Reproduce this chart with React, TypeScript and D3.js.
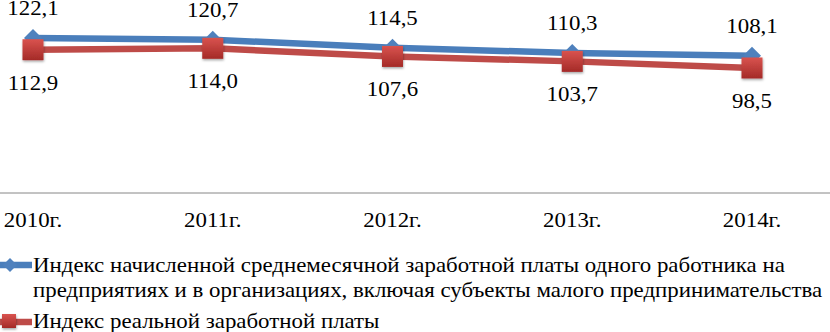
import React from "react";
import * as d3 from "d3";

const years = ["2010г.", "2011г.", "2012г.", "2013г.", "2014г."];
const nominalIndex = [122.1, 120.7, 114.5, 110.3, 108.1];
const realIndex = [112.9, 114.0, 107.6, 103.7, 98.5];
const nominalName = [
  "Индекс начисленной среднемесячной заработной платы одного работника на",
  "предприятиях и в организациях, включая субъекты малого предпринимательства",
];
const realName = ["Индекс реальной заработной платы"];

const W = 830;
const H = 332;
const BLUE = "#4A7EBB";
const BLUE_M = "#4F81BD";
const RED = "#BE4B48";
const FONT = "Liberation Serif, Times New Roman, serif";
const SX = 1.09;

const fmt = (v: number) => v.toFixed(1).replace(".", ",");

function T(props: { x: number; y: number; anchor?: string; size: number; children: React.ReactNode }) {
  return (
    <text
      transform={`translate(${props.x},${props.y}) scale(${SX},1)`}
      textAnchor={props.anchor || "start"}
      fontSize={props.size}
      fill="#000"
    >
      {props.children}
    </text>
  );
}

export default function App() {
  const x = d3.scalePoint<string>().domain(years).range([33, 752]);
  const y = d3.scaleLinear().domain([0, 140]).range([193, 15.3]);
  const line = d3
    .line<number>()
    .x((_, i) => x(years[i]) as number)
    .y((d) => y(d));

  const diamond = (cx: number, cy: number, r: number) =>
    `M${cx},${cy - r}L${cx + r},${cy}L${cx},${cy + r}L${cx - r},${cy}Z`;

  return (
    <svg
      width={W}
      height={H}
      style={{ position: "absolute", left: 0, top: 0, background: "#fff" }}
      fontFamily={FONT}
    >
      <defs>
        <linearGradient id="redGrad" x1="0" y1="0" x2="0" y2="1">
          <stop offset="0" stopColor="#D9534F" />
          <stop offset="1" stopColor="#A42A27" />
        </linearGradient>
        <filter id="shadow" x="-30%" y="-30%" width="160%" height="160%">
          <feDropShadow dx="0.5" dy="1.5" stdDeviation="1.2" floodColor="#000" floodOpacity="0.35" />
        </filter>
      </defs>
      <rect width={W} height={H} fill="#fff" />
      {/* axis */}
      <line x1={0} x2={W} y1={y(0)} y2={y(0)} stroke="#868686" strokeWidth={1} />
      {years.map((yr) => (
        <T key={yr} x={x(yr) as number} y={227} anchor="middle" size={21}>
          {yr}
        </T>
      ))}
      {/* lines */}
      <path d={line(nominalIndex) || ""} fill="none" stroke={BLUE} strokeWidth={6.5} strokeLinejoin="round" />
      {nominalIndex.map((v, i) => (
        <path key={"d" + i} d={diamond(x(years[i]) as number, y(v), 9)} fill={BLUE_M} />
      ))}
      <path d={line(realIndex) || ""} fill="none" stroke={RED} strokeWidth={6.5} strokeLinejoin="round" />
      {realIndex.map((v, i) => (
        <rect
          key={"s" + i}
          x={(x(years[i]) as number) - 10.5}
          y={y(v) - 10.5}
          width={21}
          height={21}
          fill="url(#redGrad)"
          filter="url(#shadow)"
        />
      ))}
      {/* labels */}
      {nominalIndex.map((v, i) => (
        <T key={"ln" + i} x={x(years[i]) as number} y={y(v) - 23} anchor="middle" size={21}>
          {fmt(v)}
        </T>
      ))}
      {realIndex.map((v, i) => (
        <T key={"lr" + i} x={x(years[i]) as number} y={y(v) + 40} anchor="middle" size={21}>
          {fmt(v)}
        </T>
      ))}
      {/* legend */}
      <line x1={-12} x2={32} y1={265} y2={265} stroke={BLUE} strokeWidth={6.5} />
      <path d={diamond(10, 265, 7)} fill={BLUE_M} />
      {nominalName.map((t, i) => (
        <T key={"nn" + i} x={33} y={272 + i * 25} size={21}>
          {t}
        </T>
      ))}
      <line x1={-12} x2={32} y1={322} y2={322} stroke={RED} strokeWidth={6.5} />
      <rect x={2} y={314} width={14} height={14} fill="url(#redGrad)" filter="url(#shadow)" />
      {realName.map((t, i) => (
        <T key={"rn" + i} x={33} y={328 + i * 25} size={21}>
          {t}
        </T>
      ))}
    </svg>
  );
}
